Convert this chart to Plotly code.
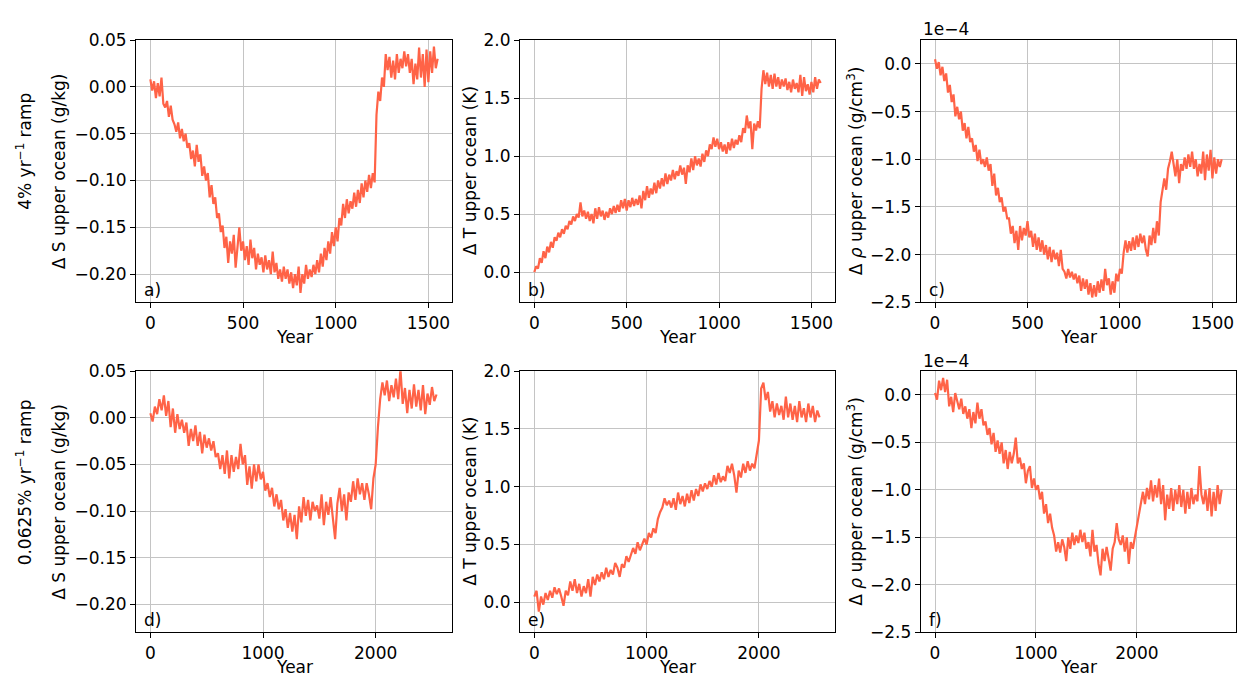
import plotly.graph_objects as go

# ---------------- data ----------------
# Top row: 4% / yr ramp, sampled every 10 years, years 0..1550
step_top = 10
dS_top = [0.008, -0.004, 0.006, -0.012, 0.004, -0.010, 0.010, -0.018, -0.022, -0.015,
          -0.032, -0.020, -0.035, -0.040, -0.048, -0.038, -0.055, -0.045, -0.058, -0.050,
          -0.065, -0.060, -0.077, -0.068, -0.085, -0.062, -0.080, -0.072, -0.095, -0.085,
          -0.100, -0.092, -0.118, -0.105, -0.125, -0.118, -0.140, -0.135, -0.155, -0.148,
          -0.172, -0.160, -0.188, -0.165, -0.178, -0.158, -0.193, -0.170, -0.150, -0.175,
          -0.165, -0.185, -0.170, -0.190, -0.163, -0.183, -0.172, -0.195, -0.178, -0.190,
          -0.182, -0.198, -0.180, -0.195, -0.185, -0.200, -0.176, -0.198, -0.188, -0.205,
          -0.195, -0.208, -0.192, -0.205, -0.195, -0.210, -0.198, -0.215, -0.200, -0.212,
          -0.192, -0.220, -0.200, -0.210, -0.190, -0.205, -0.195, -0.203, -0.190, -0.200,
          -0.185, -0.198, -0.178, -0.192, -0.172, -0.185, -0.165, -0.178, -0.155, -0.170,
          -0.150, -0.165, -0.140, -0.148, -0.125, -0.140, -0.120, -0.135, -0.122, -0.130,
          -0.113, -0.128, -0.110, -0.124, -0.103, -0.118, -0.100, -0.112, -0.094, -0.108,
          -0.092, -0.102, -0.030, -0.005, -0.015, 0.010, 0.000, 0.035, 0.018, 0.032,
          0.010, 0.028, 0.008, 0.035, 0.015, 0.030, 0.020, 0.038, 0.022, 0.035,
          0.015, 0.030, 0.003, 0.025, 0.008, 0.042, 0.010, 0.035, 0.000, 0.040,
          0.005, 0.038, 0.015, 0.043, 0.020, 0.030]

dT_top = [0.00, 0.05, 0.03, 0.12, 0.08, 0.18, 0.12, 0.22, 0.17, 0.26,
          0.21, 0.30, 0.27, 0.34, 0.30, 0.37, 0.33, 0.40, 0.37, 0.44,
          0.41, 0.48, 0.44, 0.50, 0.47, 0.60, 0.48, 0.53, 0.46, 0.52,
          0.44, 0.50, 0.42, 0.55, 0.46, 0.56, 0.48, 0.53, 0.45, 0.52,
          0.47, 0.55, 0.50, 0.57, 0.51, 0.58, 0.52, 0.62, 0.55, 0.63,
          0.53, 0.62, 0.56, 0.64, 0.57, 0.63, 0.58, 0.66, 0.55, 0.70,
          0.62, 0.74, 0.64, 0.72, 0.67, 0.77, 0.68, 0.79, 0.72, 0.81,
          0.74, 0.85, 0.76, 0.84, 0.79, 0.88, 0.80, 0.87, 0.83, 0.92,
          0.84, 0.90, 0.76, 0.92, 0.86, 0.98, 0.88, 1.00, 0.92, 0.98,
          0.91, 1.02, 0.95, 1.05, 1.00, 1.10, 1.06, 1.16, 1.08, 1.15,
          1.06, 1.12, 1.04, 1.10, 1.02, 1.12, 1.05, 1.15, 1.07, 1.14,
          1.10, 1.18, 1.12, 1.24, 1.20, 1.35, 1.24, 1.30, 1.06, 1.28,
          1.22, 1.30, 1.24, 1.58, 1.74, 1.62, 1.72, 1.60, 1.70, 1.58,
          1.71, 1.60, 1.68, 1.58, 1.66, 1.60, 1.67, 1.57, 1.64, 1.55,
          1.66, 1.58, 1.63, 1.55, 1.70, 1.52, 1.68, 1.56, 1.62, 1.53,
          1.64, 1.55, 1.68, 1.58, 1.66, 1.63]

# density anomaly in units of 1e-4 g/cm^3
dRho_top = [0.05, -0.05, 0.02, -0.12, -0.03, -0.18, -0.10, -0.30, -0.22, -0.40,
            -0.32, -0.55, -0.45, -0.58, -0.50, -0.70, -0.62, -0.78, -0.66, -0.82,
            -0.78, -0.92, -0.85, -1.02, -0.90, -1.05, -1.00, -1.08, -0.98, -1.12,
            -1.05, -1.28, -1.15, -1.38, -1.30, -1.45, -1.40, -1.55, -1.50, -1.62,
            -1.62, -1.78, -1.70, -1.88, -1.75, -1.95, -1.70, -1.85, -1.72, -1.80,
            -1.65, -1.82, -1.75, -1.92, -1.78, -1.95, -1.82, -1.97, -1.85, -2.00,
            -1.90, -2.05, -1.92, -2.08, -1.95, -2.05, -1.98, -2.12, -1.95, -2.15,
            -2.18, -2.25, -2.15, -2.24, -2.18, -2.26, -2.20, -2.30, -2.22, -2.38,
            -2.25, -2.36, -2.26, -2.42, -2.30, -2.45, -2.32, -2.44, -2.28, -2.40,
            -2.26, -2.38, -2.15, -2.32, -2.25, -2.42, -2.28, -2.40, -2.20, -2.28,
            -2.15, -2.20, -1.98, -1.85, -1.98, -1.86, -1.96, -1.82, -1.95, -1.80,
            -1.92, -1.78, -1.88, -1.80, -1.95, -2.02, -1.80, -1.90, -1.72, -1.88,
            -1.65, -1.80, -1.45, -1.30, -1.20, -1.32, -1.10, -1.02, -0.92, -1.05,
            -1.18, -1.00, -1.25, -1.05, -1.12, -0.98, -1.10, -0.95, -1.08, -0.92,
            -1.10, -1.00, -1.18, -1.05, -1.15, -0.92, -1.22, -0.95, -1.12, -0.90,
            -1.20, -0.98, -1.15, -1.00, -1.08, -1.00]

# Bottom row: 0.0625% / yr ramp, sampled every 20 years
step_bot = 20
dS_bot = [0.005, -0.004, 0.012, 0.004, 0.020, 0.008, 0.024, 0.002, 0.018, -0.010,
          0.010, -0.016, 0.004, -0.012, -0.002, -0.016, -0.005, -0.030, -0.012, -0.025,
          -0.008, -0.030, -0.015, -0.038, -0.018, -0.032, -0.022, -0.035, -0.025, -0.042,
          -0.038, -0.055, -0.040, -0.060, -0.035, -0.065, -0.040, -0.058, -0.042, -0.055,
          -0.028, -0.050, -0.040, -0.072, -0.052, -0.076, -0.050, -0.068, -0.050, -0.066,
          -0.058, -0.078, -0.070, -0.085, -0.075, -0.095, -0.082, -0.098, -0.088, -0.110,
          -0.098, -0.118, -0.102, -0.122, -0.104, -0.130, -0.095, -0.112, -0.085, -0.105,
          -0.088, -0.110, -0.090, -0.100, -0.094, -0.108, -0.082, -0.115, -0.090, -0.104,
          -0.085, -0.105, -0.130, -0.092, -0.075, -0.100, -0.082, -0.110, -0.080, -0.090,
          -0.068, -0.088, -0.065, -0.082, -0.070, -0.088, -0.070, -0.082, -0.098, -0.065,
          -0.050, -0.010, 0.020, 0.038, 0.024, 0.040, 0.018, 0.035, 0.022, 0.042,
          0.020, 0.052, 0.015, 0.032, 0.005, 0.030, 0.010, 0.036, 0.012, 0.030,
          0.008, 0.035, 0.004, 0.026, 0.014, 0.033, 0.018, 0.025]

dT_bot = [0.05, 0.10, -0.08, 0.05, -0.02, 0.08, 0.02, 0.10, 0.04, 0.13,
          0.07, 0.12, 0.05, -0.03, 0.10, 0.06, 0.18, 0.10, 0.20, 0.08,
          0.16, 0.05, 0.14, 0.08, 0.20, 0.05, 0.22, 0.15, 0.24, 0.18,
          0.26, 0.20, 0.30, 0.22, 0.28, 0.24, 0.34, 0.30, 0.22, 0.33,
          0.30, 0.40, 0.35, 0.42, 0.47, 0.42, 0.52, 0.45, 0.50, 0.55,
          0.50, 0.60, 0.56, 0.64, 0.60, 0.72, 0.78, 0.82, 0.90, 0.84,
          0.88, 0.82, 0.90, 0.80, 0.95, 0.85, 0.92, 0.83, 0.94, 0.86,
          0.97, 0.88, 0.98, 0.92, 1.02, 0.96, 1.03, 0.98, 1.05, 1.00,
          1.10, 1.02, 1.12, 1.04, 1.09, 1.05, 1.18, 1.12, 1.20, 1.10,
          0.95, 1.14, 1.08, 1.20, 1.12, 1.22, 1.14, 1.20, 1.16, 1.28,
          1.40, 1.85, 1.90, 1.75, 1.82, 1.65, 1.74, 1.60, 1.72, 1.62,
          1.70, 1.58, 1.78, 1.60, 1.72, 1.58, 1.70, 1.56, 1.74, 1.60,
          1.68, 1.56, 1.72, 1.60, 1.70, 1.56, 1.66, 1.60]

dRho_bot = [0.02, -0.05, 0.15, 0.05, 0.18, 0.03, 0.16, -0.12, -0.02, -0.18,
            0.02, -0.08, -0.15, -0.04, -0.20, -0.12, -0.25, -0.15, -0.35, -0.18,
            -0.30, -0.08, -0.25, -0.15, -0.32, -0.28, -0.42, -0.35, -0.52, -0.40,
            -0.60, -0.48, -0.62, -0.50, -0.72, -0.58, -0.78, -0.60, -0.72, -0.62,
            -0.45, -0.72, -0.66, -0.78, -0.72, -0.93, -0.80, -0.75, -0.98, -0.88,
            -1.00, -0.95, -1.10, -1.02, -1.25, -1.15, -1.35, -1.25, -1.40, -1.48,
            -1.65, -1.55, -1.66, -1.52, -1.60, -1.75, -1.50, -1.62, -1.45, -1.58,
            -1.48, -1.56, -1.42, -1.55, -1.45, -1.62, -1.55, -1.70, -1.42, -1.65,
            -1.58, -1.78, -1.90, -1.62, -1.75, -1.60, -1.72, -1.85, -1.62, -1.55,
            -1.35, -1.52, -1.58, -1.48, -1.65, -1.50, -1.78, -1.55, -1.62, -1.50,
            -1.35, -1.25, -1.12, -1.02, -1.15, -0.98, -1.10, -0.90, -1.12, -0.95,
            -1.08, -0.88, -1.15, -0.95, -1.32, -1.05, -1.20, -0.98, -1.22, -1.00,
            -1.15, -0.95, -1.18, -1.00, -1.25, -1.02, -1.20, -0.98, -1.15, -1.05,
            -1.12, -0.75, -1.05, -1.15, -1.00, -1.22, -0.98, -1.28, -1.02, -1.22,
            -0.95, -1.15, -1.00]

years_top = [i * step_top for i in range(len(dS_top))]
years_bot_S = [i * step_bot for i in range(len(dS_bot))]
years_bot_T = [i * step_bot for i in range(len(dT_bot))]
years_bot_R = [i * step_bot for i in range(len(dRho_bot))]

row_labels = ["4% yr<sup>−1</sup> ramp", "0.0625% yr<sup>−1</sup> ramp"]
ylabels = ["Δ S upper ocean (g/kg)", "Δ T upper ocean (K)",
           "Δ <i>ρ</i> upper ocean (g/cm<sup>3</sup>)"]
panel_letters = ["a)", "b)", "c)", "d)", "e)", "f)"]

S_ticks = [0.05, 0.0, -0.05, -0.10, -0.15, -0.20]
S_ticktext = ["0.05", "0.00", "−0.05", "−0.10", "−0.15", "−0.20"]
T_ticks = [0.0, 0.5, 1.0, 1.5, 2.0]
T_ticktext = ["0.0", "0.5", "1.0", "1.5", "2.0"]
R_ticks = [0.0, -0.5, -1.0, -1.5, -2.0, -2.5]
R_ticktext = ["0.0", "−0.5", "−1.0", "−1.5", "−2.0", "−2.5"]

# ---------------- layout geometry ----------------
W, H = 1239, 688
LINE = "#ff6347"
FONT = "DejaVu Sans"
FS = 17

col_px = [(136, 452), (520, 835), (920.7, 1236)]
row_px = [(31, 301), (372, 641)]

def xd(c):
    return [col_px[c][0] / W, col_px[c][1] / W]

def yd(r):
    return [1 - row_px[r][1] / H, 1 - row_px[r][0] / H]

fig = go.Figure()

series = [
    (years_top, dS_top), (years_top, dT_top), (years_top, dRho_top),
    (years_bot_S, dS_bot), (years_bot_T, dT_bot), (years_bot_R, dRho_bot),
]

xranges = [[-77.5, 1627.5]] * 3 + [[-127.5, 2677.5], [-127.5, 2677.5], [-142, 2982]]
xticks = [[0, 500, 1000, 1500]] * 3 + [[0, 1000, 2000]] * 3
yranges = [[-0.23, 0.05], [-0.26, 2.0], [-2.5, 0.25]] * 2
yticks = [(S_ticks, S_ticktext), (T_ticks, T_ticktext), (R_ticks, R_ticktext)] * 2

axis_common = dict(
    showline=True, linecolor="black", linewidth=1, mirror=True,
    ticks="outside", ticklen=5, tickwidth=1, tickcolor="black",
    showgrid=True, gridcolor="#c4c4c4", gridwidth=1, zeroline=False,
    tickfont=dict(family=FONT, size=FS, color="black"),
)

annotations = []
for k, (xs, ys) in enumerate(series):
    r, c = divmod(k, 3)
    n = k + 1
    xa = "x" if n == 1 else f"x{n}"
    ya = "y" if n == 1 else f"y{n}"
    fig.add_trace(go.Scatter(x=xs, y=ys, mode="lines", xaxis=xa, yaxis=ya,
                             line=dict(color=LINE, width=2.2), showlegend=False,
                             hoverinfo="skip"))
    xkey = "xaxis" if n == 1 else f"xaxis{n}"
    ykey = "yaxis" if n == 1 else f"yaxis{n}"
    fig.update_layout(**{
        xkey: dict(domain=xd(c), range=xranges[k], tickvals=xticks[k],
                   anchor=ya, **axis_common),
        ykey: dict(domain=yd(r), range=yranges[k], tickvals=yticks[k][0],
                   ticktext=yticks[k][1], anchor=xa, **axis_common),
    })
    # panel letter
    annotations.append(dict(text=panel_letters[k], xref="paper", yref="paper",
                            x=(col_px[c][0] + 6) / W, y=1 - (row_px[r][1] - 13) / H,
                            xanchor="left", yanchor="middle", showarrow=False,
                            font=dict(family=FONT, size=FS, color="black")))
    # x title
    annotations.append(dict(text="Year", xref="paper", yref="paper",
                            x=(col_px[c][0] + col_px[c][1]) / 2 / W,
                            y=1 - (row_px[r][1] + 36) / H,
                            xanchor="center", yanchor="middle", showarrow=False,
                            font=dict(family=FONT, size=FS, color="black")))
    # y title
    ylab_x = [59, 470, 855][c]
    annotations.append(dict(text=ylabels[c], xref="paper", yref="paper",
                            x=ylab_x / W, y=1 - (row_px[r][0] + row_px[r][1]) / 2 / H,
                            xanchor="center", yanchor="middle", textangle=-90,
                            showarrow=False,
                            font=dict(family=FONT, size=FS, color="black")))
    if c == 2:
        annotations.append(dict(text="1e−4", xref="paper", yref="paper",
                                x=col_px[c][0] / W, y=1 - (row_px[r][0] - 11) / H,
                                xanchor="left", yanchor="middle", showarrow=False,
                                font=dict(family=FONT, size=FS, color="black")))
    if c == 0:
        annotations.append(dict(text=row_labels[r], xref="paper", yref="paper",
                                x=24 / W,
                                y=1 - ((row_px[r][0] + row_px[r][1]) / 2 - 20) / H,
                                xanchor="center", yanchor="middle", textangle=-90,
                                showarrow=False,
                                font=dict(family=FONT, size=FS, color="black")))

fig.update_layout(
    width=W, height=H,
    margin=dict(l=0, r=0, t=0, b=0),
    paper_bgcolor="white", plot_bgcolor="white",
    font=dict(family=FONT, size=FS, color="black"),
    annotations=annotations,
)

fig.write_html(
    "out.html",
    config={"responsive": False, "displayModeBar": False},
    post_script="document.body.style.margin='0';document.body.style.padding='0';"
                "document.body.style.overflow='hidden';",
)
